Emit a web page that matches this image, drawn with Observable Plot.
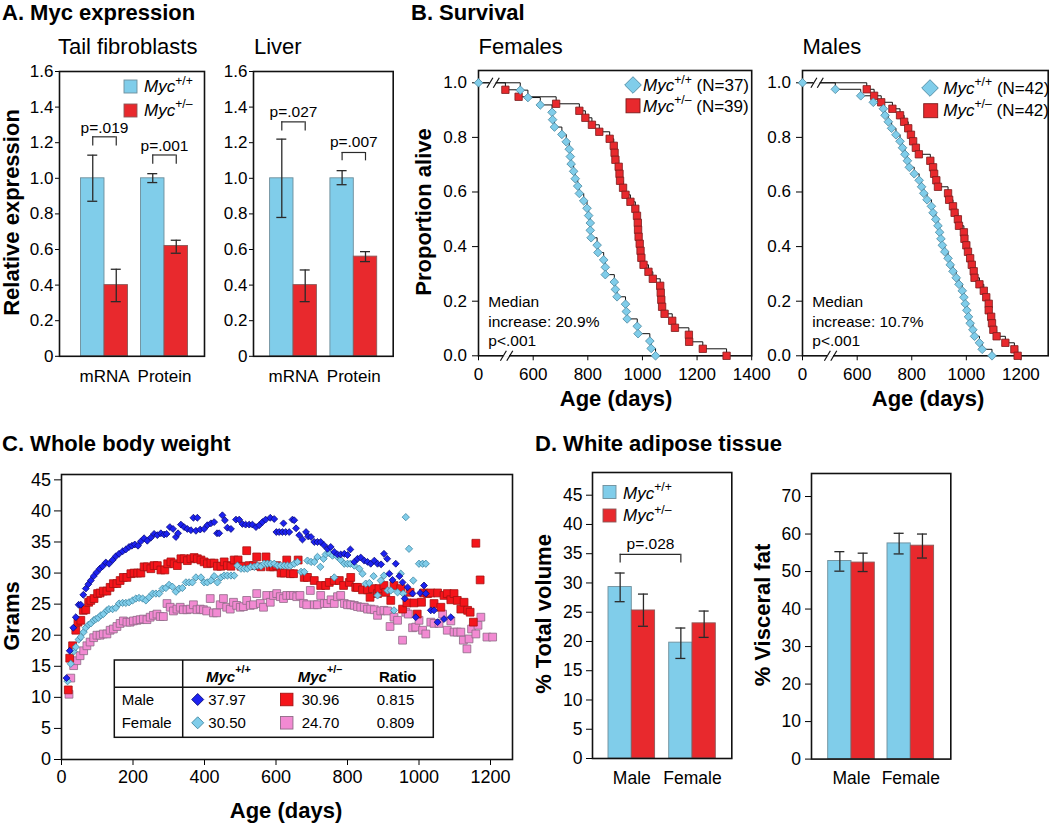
<!DOCTYPE html>
<html><head><meta charset="utf-8">
<script src="https://cdn.jsdelivr.net/npm/d3@7"></script>
<script src="https://cdn.jsdelivr.net/npm/@observablehq/plot@0.6"></script>
<style>
html,body{margin:0;padding:0;background:#fff}
#fig{position:relative;width:1050px;height:823px;overflow:hidden;background:#fff;font-family:"Liberation Sans",Arial,Helvetica,sans-serif}
#fig svg{position:absolute;overflow:visible}
</style></head>
<body><div id="fig"></div>
<script>
// ================= DATA =================
// Panel A: Myc expression
const aGroups = ["mRNA", "Protein"];
const aTicks = [0, 0.2, 0.4, 0.6, 0.8, 1.0, 1.2, 1.4, 1.6];
const tailWT = [1.00, 1.00];
const tailWTerr = [[0.871, 1.13], [0.976, 1.026]];
const tailHet = [0.40, 0.62];
const tailHetErr = [[0.307, 0.489], [0.579, 0.652]];
const liverWT = [1.00, 1.00];
const liverWTerr = [[0.78, 1.22], [0.964, 1.043]];
const liverHet = [0.40, 0.56];
const liverHetErr = [[0.307, 0.485], [0.532, 0.588]];
const tailPvals = ["p=.019", "p=.001"];
const liverPvals = ["p=.027", "p=.007"];

// Panel B: survival, days at death (in order)
const femaleWTdays = [458,542,626,669,671,678,705,721,732,736,739,748,754,763,769,785,797,803,809,809,812,834,837,858,864,864,897,901,907,938,941,944,981,984,1027,1032,1048];
const femaleHetDays = [295,440,684,769,791,815,842,880,895,898,901,913,916,918,929,938,956,974,980,983,984,986,990,993,996,1004,1022,1038,1065,1067,1069,1072,1081,1109,1119,1170,1171,1221,1308];
const maleWTdays = [360,613,659,696,702,714,726,742,757,766,775,784,791,809,827,836,844,856,872,878,888,896,902,907,912,921,933,941,951,963,973,985,991,996,1002,1008,1014,1024,1030,1048,1058,1094];
const maleHetDays = [635,662,688,729,757,772,787,797,805,815,826,868,878,882,890,896,933,937,951,957,969,973,991,993,1000,1006,1014,1020,1027,1030,1048,1064,1073,1082,1082,1091,1094,1099,1111,1143,1176,1188];
const femaleTicks = [0, 600, 800, 1000, 1200, 1400];
const maleTicks = [0, 600, 800, 1000, 1200];
const survTicks = [0, 0.2, 0.4, 0.6, 0.8, 1.0];
const femaleStats = ["Median", "increase: 20.9%", "p<.001"];
const maleStats = ["Median", "increase: 10.7%", "p<.001"];

// Panel C: body weight [age (days), grams]
const maleWTweight = [[14,13.1],[23,17.5],[33,21.2],[40,22.9],[48,24.9],[54,24.9],[61,26.5],[68,27.5],[75,28.2],[82,28.8],[90,29.5],[98,30.1],[107,30.7],[115,31.1],[124,31.7],[133,31.5],[143,32.1],[152,32.7],[161,33.1],[171,33.5],[180,33.8],[189,34.2],[197,34.4],[205,34.6],[214,34.4],[222,35.1],[231,35.6],[240,35.2],[250,35.7],[259,36.3],[268,36.1],[278,36.4],[287,36.2],[294,36.3],[303,37.4],[312,37.1],[320,35.8],[326,36.4],[334,37.8],[343,37.4],[352,37.1],[362,36.9],[369,38.9],[376,36.8],[380,38.9],[388,37.0],[399,37.1],[408,37.7],[418,38.0],[427,38.2],[435,36.4],[441,36.4],[450,39.3],[457,38.5],[464,37.3],[474,37.1],[488,38.6],[497,38.6],[506,37.9],[515,37.8],[525,37.8],[534,37.8],[544,37.4],[553,37.7],[562,38.2],[571,38.6],[584,38.9],[595,38.7],[601,36.6],[609,36.6],[618,36.6],[621,38.0],[627,36.6],[637,36.6],[646,38.6],[651,38.5],[656,37.2],[665,36.1],[674,35.4],[684,36.6],[690,35.9],[698,35.8],[707,35.0],[716,35.0],[725,35.0],[734,34.5],[744,33.9],[753,34.2],[763,33.4],[772,33.0],[781,33.0],[791,33.1],[800,32.9],[808,33.8],[819,31.8],[828,32.3],[837,32.5],[847,32.0],[856,31.8],[865,31.5],[875,32.0],[884,31.5],[894,31.4],[902,33.1],[911,32.3],[917,29.9],[926,28.9],[935,31.5],[945,29.5],[954,28.5],[960,25.9],[968,27.7],[982,26.7],[991,22.9],[1003,26.8],[1014,28.0],[1019,26.7],[1033,24.0],[1042,24.0],[1052,22.1],[1070,22.6],[1089,22.9]];
const maleHetWeight = [[19,11.2],[23,16.3],[31,18.3],[40,20.8],[46,22.1],[54,22.4],[61,24.0],[68,24.1],[76,25.3],[82,25.6],[91,25.9],[101,26.7],[108,26.8],[117,27.1],[127,27.1],[136,27.7],[145,28.3],[155,28.3],[164,28.8],[173,29.3],[183,29.3],[194,29.9],[203,30.0],[213,30.0],[222,30.0],[231,31.0],[240,31.0],[250,30.7],[259,31.2],[268,31.2],[278,30.5],[289,30.5],[297,31.5],[306,31.8],[315,31.5],[324,31.2],[334,32.3],[343,32.3],[352,32.0],[362,32.3],[371,32.5],[380,32.3],[390,32.1],[399,31.8],[408,31.5],[418,31.6],[427,31.6],[436,31.1],[446,31.1],[455,31.8],[464,31.2],[474,31.1],[483,32.1],[494,32.1],[502,31.1],[518,33.6],[525,31.2],[537,31.2],[546,32.6],[558,31.0],[572,32.6],[584,31.0],[593,31.0],[602,31.2],[614,30.0],[623,30.0],[630,32.1],[640,29.9],[649,29.9],[662,32.1],[679,29.3],[688,29.3],[707,28.8],[725,28.0],[739,28.0],[749,28.5],[763,28.8],[777,28.8],[789,28.0],[805,28.5],[809,29.3],[823,27.7],[828,27.7],[842,27.3],[856,27.3],[863,26.1],[870,27.5],[884,26.7],[888,27.5],[902,28.0],[907,26.9],[921,25.6],[930,28.0],[949,27.5],[954,24.2],[966,25.2],[975,26.9],[986,25.2],[995,23.4],[1007,25.3],[1013,26.8],[1024,26.7],[1033,26.8],[1042,25.1],[1052,26.8],[1061,24.5],[1070,26.4],[1079,26.7],[1089,25.7],[1098,26.7],[1107,25.6],[1117,24.2],[1126,25.3],[1136,24.0],[1143,23.7],[1152,22.1],[1159,34.8],[1171,28.9]];
const femaleWTweight = [[17,12.6],[26,15.4],[34,17.4],[40,18.1],[48,19.3],[54,19.7],[62,20.5],[68,21.2],[76,21.7],[82,21.9],[90,22.4],[96,22.6],[103,22.8],[110,23.2],[117,23.4],[127,24.0],[133,24.2],[143,24.2],[152,24.4],[161,25.1],[171,25.2],[180,25.2],[189,25.3],[199,25.6],[208,25.9],[217,26.0],[227,25.9],[236,25.6],[245,26.1],[255,26.7],[264,26.7],[273,26.7],[283,27.5],[292,27.6],[301,28.1],[310,27.8],[320,27.0],[329,27.5],[338,27.6],[348,28.5],[357,28.5],[366,28.5],[376,29.3],[390,29.3],[399,28.5],[408,28.5],[418,28.8],[427,29.5],[436,28.5],[446,29.3],[455,29.6],[464,29.6],[474,29.6],[483,29.6],[492,31.2],[502,30.7],[511,30.7],[520,30.7],[529,31.0],[539,31.0],[548,31.2],[558,31.1],[567,31.5],[576,31.5],[585,31.5],[595,31.5],[604,31.2],[613,31.2],[623,31.2],[632,31.2],[641,31.2],[651,31.5],[660,31.8],[670,30.2],[679,30.2],[688,32.0],[698,31.8],[707,31.8],[716,32.6],[724,31.0],[733,32.3],[739,33.0],[749,33.2],[758,32.8],[763,29.3],[770,32.7],[781,32.1],[791,31.5],[800,31.5],[808,31.5],[819,31.2],[833,30.7],[842,29.9],[851,28.3],[861,28.4],[873,29.5],[884,26.4],[893,28.8],[902,29.6],[912,27.2],[921,27.2],[930,24.0],[940,26.9],[949,29.9],[956,26.7],[963,39.0],[972,33.9],[984,28.8],[1000,31.5],[1010,31.5],[1019,31.5]];
const femaleHetWeight = [[21,10.5],[26,13.1],[34,15.1],[43,15.9],[52,16.7],[62,17.5],[71,18.3],[80,18.9],[90,19.6],[99,20.0],[108,20.0],[117,20.2],[127,20.2],[136,20.8],[145,21.0],[155,21.4],[164,21.9],[173,22.3],[183,22.1],[192,22.1],[201,22.3],[211,22.4],[220,22.5],[229,22.6],[239,22.5],[248,22.9],[257,23.2],[267,23.4],[276,23.0],[285,23.0],[295,25.1],[304,24.5],[313,23.9],[323,24.2],[332,24.5],[341,24.1],[351,24.1],[360,24.2],[369,24.9],[379,24.1],[388,24.2],[397,24.1],[406,23.9],[416,25.9],[425,23.6],[434,23.6],[444,24.9],[453,25.9],[462,24.5],[472,24.2],[481,25.3],[490,24.8],[500,24.5],[509,24.6],[518,25.6],[528,24.8],[537,24.9],[546,26.7],[556,25.1],[565,24.5],[574,26.4],[584,25.3],[593,26.4],[602,26.7],[612,26.2],[621,25.9],[630,26.4],[640,26.4],[649,26.4],[658,26.2],[667,26.4],[677,25.1],[686,24.9],[696,27.2],[707,24.9],[716,24.9],[725,26.4],[735,25.1],[744,25.1],[754,25.7],[763,25.1],[772,26.2],[781,26.4],[791,25.1],[800,24.9],[809,24.9],[819,24.8],[828,24.6],[837,24.5],[847,24.5],[856,24.2],[865,24.2],[875,24.1],[884,23.2],[893,23.9],[902,24.0],[912,23.9],[919,21.4],[930,22.9],[940,22.4],[954,19.2],[963,23.7],[970,23.4],[982,21.2],[991,21.3],[1000,22.4],[1010,20.8],[1019,20.2],[1033,22.1],[1042,21.9],[1056,21.9],[1066,23.4],[1079,20.8],[1089,22.3],[1098,20.5],[1107,20.5],[1117,20.5],[1124,19.2],[1134,17.8],[1140,19.4],[1147,21.0],[1159,20.2],[1165,21.6],[1173,22.9],[1190,19.7],[1206,19.7]];
const cXTicks = [0, 200, 400, 600, 800, 1000, 1200];
const cYTicks = [0, 5, 10, 15, 20, 25, 30, 35, 40, 45];
const tableRows = ["Male", "Female"];
const tableWT = ["37.97", "30.50"];
const tableHet = ["30.96", "24.70"];
const tableRatio = ["0.815", "0.809"];

// Panel D: white adipose tissue
const dGroups = ["Male", "Female"];
const volWT = [29.3, 19.8];
const volWTerr = [[26.8, 31.7], [17.1, 22.3]];
const volHet = [25.3, 23.1];
const volHetErr = [[22.6, 28.1], [20.7, 25.2]];
const visWT = [52.8, 57.5];
const visWTerr = [[50.1, 55.3], [54.7, 60.2]];
const visHet = [52.4, 56.9];
const visHetErr = [[50.0, 54.9], [53.6, 60.0]];
const volTicks = [0, 5, 10, 15, 20, 25, 30, 35, 40, 45];
const visTicks = [0, 10, 20, 30, 40, 50, 60, 70];
const volPval = "p=.028";

// ================= STYLE =================
const FONT = '"Liberation Sans", Arial, Helvetica, sans-serif';
const C_WT = "#80cdea", C_HET = "#e8292d", C_DBLUE = "#1c22f0", C_PINK = "#f28ad2", C_RED = "#f5141a";
const DIAMOND = {draw(ctx, size) { const r = Math.sqrt(size / 2); ctx.moveTo(0, -r); ctx.lineTo(r, 0); ctx.lineTo(0, r); ctx.lineTo(-r, 0); ctx.closePath(); }};
const fig = document.getElementById("fig");

function dims([x0, x1, y0, y1], padL = 70, padR = 14, padT = 14, padB = 48) {
  const w = x1 - x0, h = y1 - y0;
  const width = Math.ceil(w + padL + padR), height = Math.ceil(h + padT + padB);
  return {left: x0 - padL, top: y0 - padT, width, height, marginLeft: padL, marginRight: width - padL - w, marginTop: padT, marginBottom: height - padT - h};
}
function layout(d) { return {width: d.width, height: d.height, marginLeft: d.marginLeft, marginRight: d.marginRight, marginTop: d.marginTop, marginBottom: d.marginBottom}; }
function pstyle(size) { return {fontFamily: FONT, fontSize: size + "px", color: "#000", background: "transparent", overflow: "visible"}; }
function mount(node, left, top, size) {
  node.style.position = "absolute"; node.style.left = left + "px"; node.style.top = top + "px";
  node.style.background = "transparent"; node.style.overflow = "visible";
  if (size) { node.style.fontSize = size + "px"; node.style.fontFamily = FONT; }
  fig.appendChild(node);
}

// ---------- grouped bar chart ----------
function groupedBars(cfg) {
  const d = dims(cfg.frame);
  const [x0, x1] = cfg.frame, [c0, c1] = cfg.centers, step = c1 - c0;
  const h = cfg.barW / step, cap = 5 / step;
  const mk = (vals, errs, side) => vals.map((v, i) => ({i, v, lo: errs[i][0], hi: errs[i][1], a: side < 0 ? i - h : i, b: side < 0 ? i : i + h, c: i + side * h / 2}));
  const wt = mk(cfg.wt, cfg.wtErr, -1), het = mk(cfg.het, cfg.hetErr, 1), all = wt.concat(het);
  const ink = "#2a2a2a";
  const marks = [
    Plot.rect(wt, {x1: "a", x2: "b", y1: 0, y2: "v", fill: C_WT, stroke: "#6e8e9b", strokeWidth: 0.9}),
    Plot.rect(het, {x1: "a", x2: "b", y1: 0, y2: "v", fill: C_HET, stroke: "#8a5a5a", strokeWidth: 0.9}),
    Plot.ruleX(all, {x: "c", y1: "lo", y2: "hi", stroke: ink, strokeWidth: 1.3}),
    Plot.ruleY(all, {y: "lo", x1: r => r.c - cap, x2: r => r.c + cap, stroke: ink, strokeWidth: 1.3}),
    Plot.ruleY(all, {y: "hi", x1: r => r.c - cap, x2: r => r.c + cap, stroke: ink, strokeWidth: 1.3})
  ];
  if (cfg.brackets) {
    const br = cfg.brackets.map(b => ({...b, xa: b.from[0] + b.from[1] * h / 2, xb: b.to[0] + b.to[1] * h / 2}));
    marks.push(
      Plot.ruleY(br, {y: "top", x1: "xa", x2: "xb", stroke: ink, strokeWidth: 1.2}),
      Plot.ruleX(br, {x: "xa", y1: "leg", y2: "top", stroke: ink, strokeWidth: 1.2}),
      Plot.ruleX(br, {x: "xb", y1: "leg", y2: "top", stroke: ink, strokeWidth: 1.2}),
      Plot.text(br, {x: r => (r.xa + r.xb) / 2, y: "ty", text: "label", fontSize: 15.5})
    );
  }
  marks.push(Plot.frame({stroke: "#111", strokeWidth: 1.6}));
  const svg = Plot.plot({
    ...layout(d), style: pstyle(cfg.font),
    x: {domain: [(x0 - c0) / step, (x1 - c0) / step], ticks: cfg.groups.map((_, i) => i), tickFormat: i => cfg.groups[i], tickSize: 0, tickPadding: cfg.xPad, label: null},
    y: {domain: [0, cfg.yMax], ticks: cfg.yTicks, tickFormat: cfg.yFormat, tickSize: cfg.tickSize, tickPadding: cfg.tickPad, label: null},
    marks
  });
  mount(svg, d.left, d.top, cfg.font);
}

const fmtA = v => v === 0 ? "0" : v.toFixed(1);
groupedBars({frame: [59, 204, 70.5, 355.3], centers: [104, 164], barW: 23.5, groups: aGroups, wt: tailWT, wtErr: tailWTerr, het: tailHet, hetErr: tailHetErr,
  yMax: 1.6, yTicks: aTicks, yFormat: fmtA, font: 17, xPad: 14, tickSize: 4, tickPad: 2,
  brackets: [{from: [0, -1], to: [0, 1], top: 1.233, leg: 1.182, ty: 1.285, label: tailPvals[0]}, {from: [1, -1], to: [1, 1], top: 1.131, leg: 1.079, ty: 1.181, label: tailPvals[1]}]});
groupedBars({frame: [253, 392.7, 70.5, 355.3], centers: [293, 353.3], barW: 23.4, groups: aGroups, wt: liverWT, wtErr: liverWTerr, het: liverHet, hetErr: liverHetErr,
  yMax: 1.6, yTicks: aTicks, yFormat: fmtA, font: 17, xPad: 14, tickSize: 4, tickPad: 2,
  brackets: [{from: [0, -1], to: [0, 1], top: 1.317, leg: 1.266, ty: 1.373, label: liverPvals[0]}, {from: [1, -1], to: [1, 1], top: 1.145, leg: 1.098, ty: 1.205, label: liverPvals[1]}]});
groupedBars({frame: [591.7, 731, 472.3, 758.3], centers: [631, 691.7], barW: 23.3, groups: dGroups, wt: volWT, wtErr: volWTerr, het: volHet, hetErr: volHetErr,
  yMax: 48.88, yTicks: volTicks, yFormat: v => String(v), font: 17.5, xPad: 12.6, tickSize: 6, tickPad: 4,
  brackets: [{from: [0, -1], to: [1, -1], top: 34.9, leg: 33.4, ty: 36.6, label: volPval}]});
groupedBars({frame: [810.7, 950, 472.7, 758.3], centers: [850.7, 910], barW: 23.3, groups: dGroups, wt: visWT, wtErr: visWTerr, het: visHet, hetErr: visHetErr,
  yMax: 76.14, yTicks: visTicks, yFormat: v => String(v), font: 17.5, xPad: 12.6, tickSize: 6, tickPad: 4.5});

// ---------- survival chart ----------
function survival(cfg) {
  const d = dims(cfg.frame);
  const [x0, x1] = cfg.frame;
  const range = [d.marginLeft, d.marginLeft + (cfg.breakPx - x0), d.marginLeft + (x1 - x0)];
  const km = days => [{day: 0, s: 1}].concat(days.map((t, k) => ({day: t, s: (days.length - k - 1) / days.length})));
  const wt = km(cfg.wt), het = km(cfg.het);
  // axis-break glyph: two slanted strokes, sized in pixels and converted to data units
  const dayPerPx = 600 / (cfg.breakPx - x0), sPerPx = 1.045 / (cfg.frame[3] - cfg.frame[2]);
  const breaks = [{day: 160, s: 1}, {day: 308, s: 0}];
  const slashes = breaks.flatMap(b => [-3.2, 3.2].map(o => ({
    x1: b.day + (o - 3) * dayPerPx, x2: b.day + (o + 3) * dayPerPx, y1: b.s - 5 * sPerPx, y2: b.s + 5 * sPerPx})));
  const gaps = breaks.map(b => ({x1: b.day - 3 * dayPerPx, x2: b.day + 3 * dayPerPx, y1: b.s - 1.6 * sPerPx, y2: b.s + 1.6 * sPerPx}));
  const svg = Plot.plot({
    ...layout(d), style: pstyle(17),
    x: {type: "linear", domain: [0, 600, cfg.xMax], range, ticks: cfg.ticks, tickFormat: v => String(v), tickSize: 5, tickPadding: 7.6, label: null},
    y: {domain: [0, 1.045], ticks: survTicks, tickFormat: v => v.toFixed(1), tickSize: 6, tickPadding: 5.5, label: null},
    marks: [
      Plot.line(wt, {x: "day", y: "s", curve: "step-after", stroke: "#111", strokeWidth: 1}),
      Plot.line(het, {x: "day", y: "s", curve: "step-after", stroke: "#111", strokeWidth: 1}),
      Plot.frame({stroke: "#111", strokeWidth: 1.6}),
      Plot.rect(gaps, {x1: "x1", x2: "x2", y1: "y1", y2: "y2", fill: "white"}),
      Plot.link(slashes, {x1: "x1", x2: "x2", y1: "y1", y2: "y2", stroke: "#111", strokeWidth: 1.2}),
      Plot.dot(het.slice(1), {x: "day", y: "s", symbol: "square", r: 4.15, fill: C_HET, stroke: "#7a1c1c", strokeWidth: 0.8}),
      Plot.dot(wt, {x: "day", y: "s", symbol: DIAMOND, r: 3.45, fill: C_WT, stroke: "#4b88a0", strokeWidth: 0.8})
    ]
  });
  mount(svg, d.left, d.top, 17);
}
survival({frame: [478.3, 751.5, 70, 355.3], breakPx: 533, xMax: 1400, ticks: femaleTicks, wt: femaleWTdays, het: femaleHetDays});
survival({frame: [802.3, 1048, 70, 355.3], breakPx: 857, xMax: 1300, ticks: maleTicks, wt: maleWTdays, het: maleHetDays});

// ---------- body weight scatter ----------
(function () {
  const fr = [60.7, 511.7, 474, 759];
  const d = dims(fr, 60, 12, 12, 45);
  const pts = a => a.map(([day, g]) => ({day, g}));
  const svg = Plot.plot({
    ...layout(d), style: pstyle(18),
    x: {domain: [0, 1261.5], ticks: cXTicks, tickFormat: v => String(v), tickSize: 6, tickPadding: 5, label: null},
    y: {domain: [0, 45.86], ticks: cYTicks, tickFormat: v => String(v), tickSize: 7, tickPadding: 3.5, label: null},
    marks: [
      Plot.dot(pts(femaleHetWeight), {x: "day", y: "g", symbol: "square", r: 4.4, fill: C_PINK, stroke: "#8e6a86", strokeWidth: 0.8}),
      Plot.dot(pts(maleHetWeight), {x: "day", y: "g", symbol: "square", r: 4.4, fill: C_RED, stroke: "#a51313", strokeWidth: 0.8}),
      Plot.dot(pts(femaleWTweight), {x: "day", y: "g", symbol: DIAMOND, r: 2.9, fill: C_WT, stroke: "#3f87a2", strokeWidth: 0.8}),
      Plot.dot(pts(maleWTweight), {x: "day", y: "g", symbol: DIAMOND, r: 2.75, fill: C_DBLUE, stroke: "#0b0b7a", strokeWidth: 0.8}),
      Plot.frame({stroke: "#111", strokeWidth: 1.6})
    ]
  });
  mount(svg, d.left, d.top, 18);
})();

// ================= TEXT / LEGEND OVERLAY =================
const ov = d3.create("svg").attr("width", 1050).attr("height", 823).style("left", "0px").style("top", "0px")
  .style("pointer-events", "none").attr("font-family", FONT);
function T(x, y, str, size, o = {}) {
  return ov.append("text").attr("x", x).attr("y", y).attr("font-size", size).attr("fill", "#000")
    .attr("text-anchor", o.anchor || "start").attr("font-weight", o.bold ? "bold" : "normal").text(str);
}
function R(x, y, str, size) {
  ov.append("text").attr("transform", `translate(${x},${y}) rotate(-90)`).attr("text-anchor", "middle")
    .attr("font-size", size).attr("font-weight", "bold").attr("fill", "#000").text(str);
}
function rich(x, y, parts, size, o = {}) {
  const t = ov.append("text").attr("x", x).attr("y", y).attr("font-size", size).attr("fill", "#000")
    .attr("font-weight", o.bold ? "bold" : "normal");
  let shift = 0;
  for (const p of parts) {
    const s = t.append("tspan").text(p.t);
    if (p.i) s.attr("font-style", "italic");
    const target = p.sup ? -size * (o.supShift || 0.42) : 0;
    if (target !== shift) { s.attr("dy", target - shift); shift = target; }
    if (p.sup) s.attr("font-size", size * 0.72);
  }
}
const mycWT = [{t: "Myc", i: true}, {t: "+/+", sup: true}];
const mycHet = [{t: "Myc", i: true}, {t: "+/\u2013", sup: true}];
function diamond(cx, cy, r, fill, stroke) {
  ov.append("path").attr("d", `M${cx},${cy - r}L${cx + r},${cy}L${cx},${cy + r}L${cx - r},${cy}Z`).attr("fill", fill).attr("stroke", stroke).attr("stroke-width", 0.9);
}
function square(cx, cy, s, fill, stroke) {
  ov.append("rect").attr("x", cx - s / 2).attr("y", cy - s / 2).attr("width", s).attr("height", s).attr("fill", fill).attr("stroke", stroke).attr("stroke-width", 0.9);
}

// Titles
T(2, 20, "A. Myc expression", 22, {bold: true});
T(411, 20, "B. Survival", 22, {bold: true});
T(2, 450.5, "C. Whole body weight", 22, {bold: true});
T(535, 450.5, "D. White adipose tissue", 22, {bold: true});
// Subtitles
T(58, 53.5, "Tail fibroblasts", 22);
T(254, 53.5, "Liver", 22);
T(478.5, 53.5, "Females", 22);
T(802.5, 53.5, "Males", 22);
// Axis titles
R(19, 212.5, "Relative expression", 22);
R(431, 212, "Proportion alive", 22);
R(18.5, 616, "Grams", 22);
R(551, 614, "% Total volume", 22);
R(770, 615, "% Visceral fat", 22);
T(616, 405.5, "Age (days)", 22, {bold: true, anchor: "middle"});
T(928, 405.5, "Age (days)", 22, {bold: true, anchor: "middle"});
T(286, 818, "Age (days)", 22, {bold: true, anchor: "middle"});

// Panel A legend
square(130.5, 86.5, 13, C_WT, "#6e8e9b");
square(130.5, 110.5, 13, C_HET, "#8a5a5a");
rich(144, 92, mycWT, 17);
rich(144, 115.5, mycHet, 17);
// Panel D legend
square(609.5, 492, 13, C_WT, "#6e8e9b");
square(609.5, 515.5, 13, C_HET, "#8a5a5a");
rich(623, 498.5, mycWT, 17);
rich(623, 521, mycHet, 17);

// Panel B legends
diamond(633, 85, 8.3, C_WT, "#4b88a0");
square(633, 105.8, 14, C_HET, "#7a1c1c");
rich(643, 91, mycWT.concat([{t: ` (N=${femaleWTdays.length})`}]), 17);
rich(643, 111.5, mycHet.concat([{t: ` (N=${femaleHetDays.length})`}]), 17);
diamond(930, 88, 8.3, C_WT, "#4b88a0");
square(930.7, 110.7, 14, C_HET, "#7a1c1c");
rich(943.3, 93.5, mycWT.concat([{t: ` (N=${maleWTdays.length})`}]), 17);
rich(943.3, 115.5, mycHet.concat([{t: ` (N=${maleHetDays.length})`}]), 17);
// Survival stats
femaleStats.forEach((s, k) => T(488.3, [306.7, 326.7, 345.5][k], s, 15.5));
maleStats.forEach((s, k) => T(812.3, [306.7, 326.7, 345.5][k], s, 15.5));

// Panel C table
ov.append("rect").attr("x", 114.3).attr("y", 660).attr("width", 319).attr("height", 77.3).attr("fill", "#fff").attr("stroke", "#111").attr("stroke-width", 1.5);
ov.append("line").attr("x1", 114.3).attr("x2", 433.3).attr("y1", 687.3).attr("y2", 687.3).attr("stroke", "#111").attr("stroke-width", 1.5);
ov.append("line").attr("x1", 182.7).attr("x2", 182.7).attr("y1", 660).attr("y2", 737.3).attr("stroke", "#111").attr("stroke-width", 1.5);
rich(206, 681.5, [{t: "Myc", i: true}, {t: "+/+", sup: true}], 15, {bold: true, supShift: 0.6});
rich(297.7, 681.5, [{t: "Myc", i: true}, {t: "+/\u2013", sup: true}], 15, {bold: true, supShift: 0.6});
T(379, 681.5, "Ratio", 15, {bold: true});
const rowY = [705, 728.3];
tableRows.forEach((r, k) => {
  T(121.7, rowY[k], r, 15);
  T(208.3, rowY[k], tableWT[k], 15);
  T(301.7, rowY[k], tableHet[k], 15);
  T(376.7, rowY[k], tableRatio[k], 15);
});
diamond(197.7, 699.5, 6, C_DBLUE, "#0b0b7a");
diamond(197.7, 722.8, 6, C_WT, "#3f87a2");
square(286.7, 699.5, 12.5, C_RED, "#a51313");
square(286.7, 722.8, 12.5, C_PINK, "#8e6a86");

mount(ov.node(), 0, 0);
</script></body></html>
